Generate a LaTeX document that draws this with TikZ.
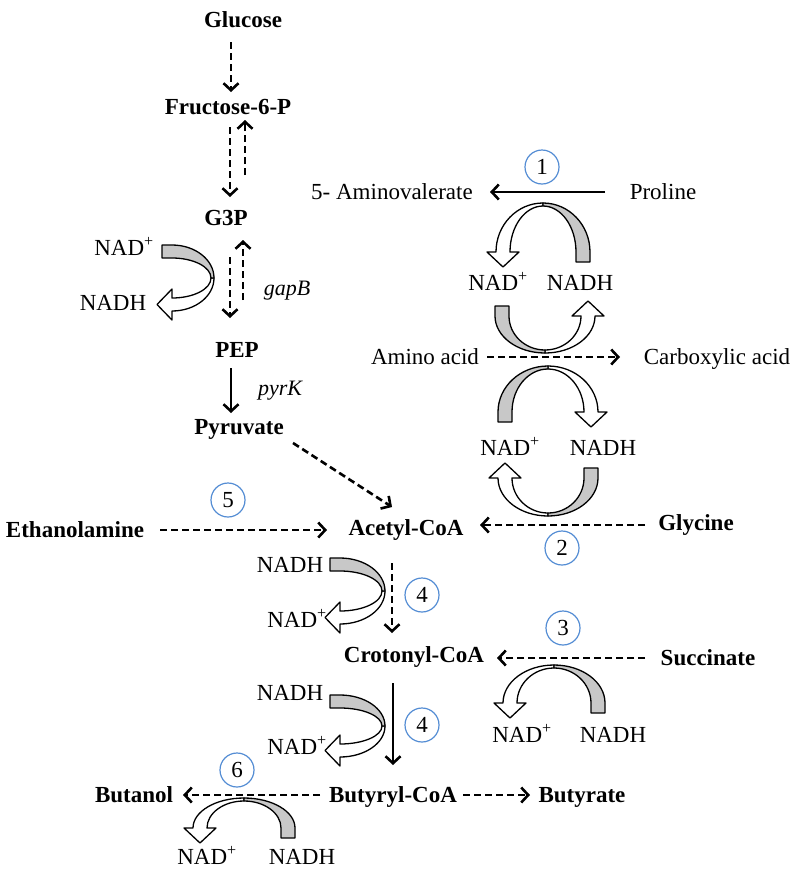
\documentclass[tikz,border=0pt]{standalone}
\usepackage{fontspec}
\setmainfont{Liberation Serif}
\usetikzlibrary{arrows.meta,calc}
\definecolor{bandgray}{RGB}{200,200,200}
\definecolor{numblue}{RGB}{84,141,212}
\tikzset{
 met/.style={font=\bfseries\fontsize{23}{26}\selectfont, inner sep=0pt, text height=15.5pt, text depth=0pt},
 lab/.style={font=\fontsize{23}{26}\selectfont, inner sep=0pt, text height=15.5pt, text depth=0pt},
 gene/.style={font=\itshape\fontsize{22}{26}\selectfont, inner sep=0pt, text height=15pt, text depth=0pt},
 num/.style={draw=numblue, line width=1.2pt, circle, minimum size=34pt, inner sep=0pt, font=\fontsize{23}{26}\selectfont},
 arr/.style={line width=2.6pt, -{Straight Barb[length=7pt,width=15pt]}},
 darr/.style={arr, dash pattern=on 7pt off 4pt},
 band/.style={line width=1.3pt, line join=round},
}
% #1 = cm parameters, #2 = outer half width A, #3 = outer height H, #4 = band width
\newcommand{\bandarrow}[4]{%
\begin{scope}[cm={#1}]
 \draw[band, fill=white] (0,#3) arc[start angle=90,end angle=180,x radius=#2,y radius=#3] -- ++(-9,0) -- ({-#2+#4/2},-15) -- ({-#2+#4+9},0) -- ({-#2+#4},0) arc[start angle=180,end angle=90,x radius={#2-#4},y radius={#3-3}] -- cycle;
 \draw[band, fill=bandgray] (#2,-10) -- (#2,0) arc[start angle=0,end angle=90,x radius=#2,y radius=#3] -- (0,{#3-3}) arc[start angle=90,end angle=0,x radius={#2-#4},y radius={#3-3}] -- ({#2-#4},-10) -- cycle;
\end{scope}}
\begin{document}
\begin{tikzpicture}[x=1pt,y=1pt]
\fill[white] (0,0) rectangle (800,-873);
\useasboundingbox (0,0) rectangle (800,-873);
% metabolites
\node[met] (glc) at (243,-20) {Glucose};
\node[met] (f6p) at (228,-107) {Fructose-6-P};
\node[met] (g3p) at (226,-218) {G3P};
\node[met] (pep) at (237,-350) {PEP};
\node[met] (pyr) at (239,-427) {Pyruvate};
\node[met] (acoa) at (406,-528) {Acetyl-CoA};
\node[met] (eth) at (75,-530) {Ethanolamine};
\node[met] (gly) at (696,-523) {Glycine};
\node[met] (crot) at (414,-655) {Crotonyl-CoA};
\node[met] (succ) at (708,-658) {Succinate};
\node[met] (but) at (393,-795) {Butyryl-CoA};
\node[met] (butol) at (134,-795) {Butanol};
\node[met] (butrt) at (582,-795) {Butyrate};
\node[lab] (amval) at (392,-192) {5- Aminovalerate};
\node[lab] (pro) at (663,-192) {Proline};
\node[lab] (amino) at (425,-357) {Amino acid};
\node[lab] (carb) at (717,-357) {Carboxylic acid};
\node[gene] (gapb) at (287,-288) {gapB};
\node[gene] (pyrk) at (280,-388) {pyrK};
% cofactors
\node[lab] (nad1) at (124,-248) {NAD\textsuperscript{+}};
\node[lab] (nadh1) at (113,-303) {NADH};
\node[lab] (nad2) at (498,-283) {NAD\textsuperscript{+}};
\node[lab] (nadh2) at (580,-283) {NADH};
\node[lab] (nad3) at (510,-448) {NAD\textsuperscript{+}};
\node[lab] (nadh3) at (603,-448) {NADH};
\node[lab] (nadh4) at (290,-565) {NADH};
\node[lab] (nad4) at (297,-620) {NAD\textsuperscript{+}};
\node[lab] (nadh5) at (290,-693) {NADH};
\node[lab] (nad5) at (297,-747) {NAD\textsuperscript{+}};
\node[lab] (nad6) at (522,-735) {NAD\textsuperscript{+}};
\node[lab] (nadh6) at (613,-735) {NADH};
\node[lab] (nad7) at (207,-857) {NAD\textsuperscript{+}};
\node[lab] (nadh7) at (302,-857) {NADH};
% numbered circles
\node[num] (c1) at (542,-167) {1};
\node[num] (c2) at (562,-548) {2};
\node[num] (c3) at (563,-628) {3};
\node[num] (c4a) at (422,-595) {4};
\node[num] (c4b) at (422,-725) {4};
\node[num] (c5) at (228,-500) {5};
\node[num] (c6) at (237,-770) {6};
% curved cofactor arrows
\bandarrow{0,1,1,0,(172,-278)}{33}{42}{13}
\bandarrow{1,0,0,1,(543,-252)}{47}{49}{14}
\bandarrow{-1,0,0,-1,(545,-316)}{50}{37}{14}
\bandarrow{-1,0,0,1,(548,-412)}{50}{46}{14}
\bandarrow{1,0,0,-1,(548,-478)}{50}{38}{14}
\bandarrow{0,1,1,0,(340,-591)}{33}{45}{13}
\bandarrow{0,1,1,0,(340,-726)}{31}{45}{13}
\bandarrow{1,0,0,1,(554,-703)}{51}{38}{14}
\bandarrow{1,0,0,1,(244,-828)}{51}{30}{14}
% reaction arrows
\draw[darr] ($(glc)+(-12,-22)$) -- ($(f6p)+(3,15)$);
\draw[darr] ($(f6p)+(2,-20)$) -- ($(g3p)+(4,21)$);
\draw[darr] ($(g3p)+(19,43)$) -- ($(f6p)+(17,-13)$);
\draw[darr] ($(g3p)+(4,-39)$) -- ($(pep)+(-7,32)$);
\draw[darr] ($(pep)+(6,50)$) -- ($(g3p)+(17,-22)$);
\draw[arr] ($(pep)+(-6,-18)$) -- ($(pyr)+(-8,14)$);
\draw[darr] ($(pyr)+(54,-16)$) -- ($(acoa)+(-14,21)$);
\draw[darr] ($(eth)+(85,0)$) -- ($(acoa)+(-79,-2)$);
\draw[darr] ($(gly)+(-51,-2)$) -- ($(acoa)+(74,3)$);
\draw[arr] ($(pro)+(-58,0)$) -- ($(amval)+(98,0)$);
\draw[darr] ($(amino)+(62,0)$) -- ($(carb)+(-97,0)$);
\draw[darr] ($(acoa)+(-14,-35)$) -- ($(crot)+(-22,22)$);
\draw[darr] ($(succ)+(-63,0)$) -- ($(crot)+(83,-3)$);
\draw[arr] ($(crot)+(-21,-28)$) -- ($(but)+(0,30)$);
\draw[darr] ($(but)+(-73,0)$) -- ($(butol)+(49,0)$);
\draw[darr] ($(but)+(70,0)$) -- ($(butrt)+(-52,0)$);
\end{tikzpicture}
\end{document}
